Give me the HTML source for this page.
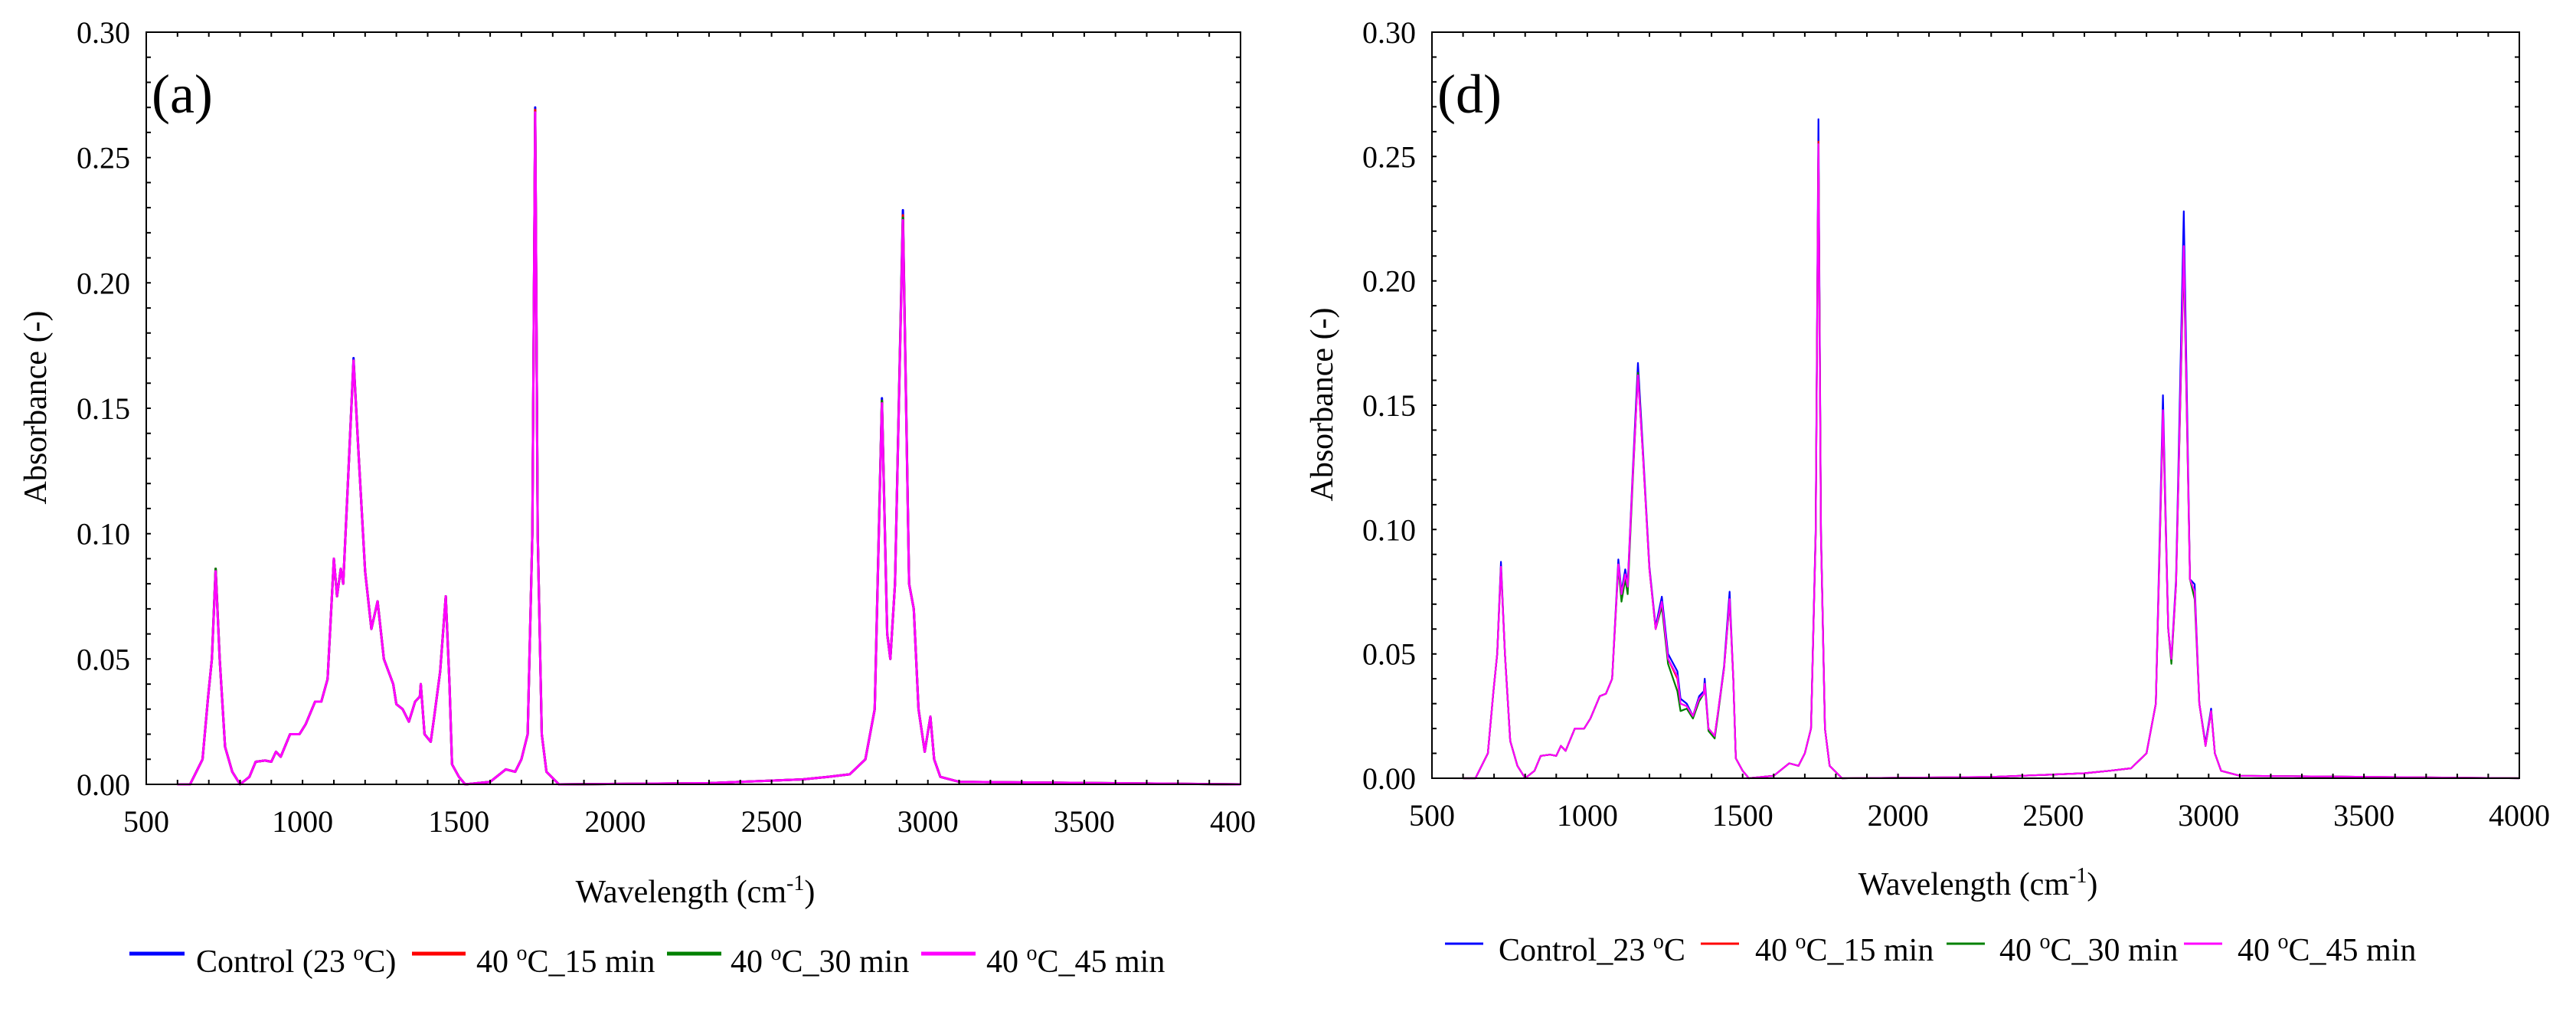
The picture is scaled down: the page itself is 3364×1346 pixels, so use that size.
<!DOCTYPE html>
<html><head><meta charset="utf-8">
<style>
html,body{margin:0;padding:0;background:#fff;}
svg{display:block;font-family:"Liberation Serif",serif;}
</style></head>
<body>
<svg id="fig" width="3364" height="1346" viewBox="0 0 3364 1346" xmlns="http://www.w3.org/2000/svg"></svg>
<script>
const wn = [600,640,680,698,710,722,735,752,775,800,830,850,880,900,915,930,960,990,1010,1040,1060,1080,1100,1110,1122,1130,1145,1163,1180,1200,1220,1240,1260,1290,1300,1320,1340,1360,1375,1378,1390,1410,1420,1440,1458,1470,1478,1500,1520,1600,1650,1680,1700,1720,1735,1744,1752,1765,1780,1820,2300,2600,2680,2750,2800,2830,2853,2870,2880,2895,2920,2940,2955,2970,2990,3008,3020,3040,3100,4000];
const aControl = [0,0,0.01,0.035,0.05,0.086,0.05,0.015,0.005,0,0.003,0.009,0.0095,0.009,0.013,0.011,0.02,0.02,0.024,0.033,0.033,0.042,0.09,0.075,0.086,0.08,0.12,0.17,0.13,0.085,0.062,0.073,0.05,0.04,0.032,0.03,0.025,0.033,0.035,0.04,0.02,0.017,0.026,0.045,0.075,0.04,0.008,0.003,0,0.001,0.006,0.005,0.01,0.02,0.1,0.27,0.1,0.02,0.005,0,0.0005,0.002,0.003,0.004,0.01,0.03,0.154,0.06,0.05,0.08,0.229,0.08,0.07,0.03,0.013,0.027,0.01,0.003,0.001,0];
const a15 = [0,0,0.01,0.035,0.05,0.086,0.05,0.015,0.005,0,0.003,0.009,0.0095,0.009,0.013,0.011,0.02,0.02,0.024,0.033,0.033,0.042,0.09,0.075,0.086,0.08,0.12,0.169,0.13,0.085,0.062,0.073,0.05,0.04,0.032,0.03,0.025,0.033,0.035,0.04,0.02,0.017,0.026,0.045,0.075,0.04,0.008,0.003,0,0.001,0.006,0.005,0.01,0.02,0.1,0.269,0.1,0.02,0.005,0,0.0005,0.002,0.003,0.004,0.01,0.03,0.153,0.06,0.05,0.08,0.227,0.08,0.07,0.03,0.013,0.027,0.01,0.003,0.001,0];
const a30 = [0,0,0.01,0.035,0.05,0.086,0.05,0.015,0.005,0,0.003,0.009,0.0095,0.009,0.013,0.011,0.02,0.02,0.024,0.033,0.033,0.042,0.09,0.075,0.086,0.08,0.12,0.169,0.13,0.085,0.062,0.073,0.05,0.04,0.032,0.03,0.025,0.033,0.035,0.04,0.02,0.017,0.026,0.045,0.075,0.04,0.008,0.003,0,0.001,0.006,0.005,0.01,0.02,0.1,0.268,0.1,0.02,0.005,0,0.0005,0.002,0.003,0.004,0.01,0.03,0.153,0.06,0.05,0.08,0.226,0.08,0.07,0.03,0.013,0.027,0.01,0.003,0.001,0];
const a45 = [0,0,0.01,0.035,0.05,0.085,0.05,0.015,0.005,0,0.003,0.009,0.0095,0.009,0.013,0.011,0.02,0.02,0.024,0.033,0.033,0.042,0.09,0.075,0.086,0.08,0.12,0.169,0.13,0.085,0.062,0.073,0.05,0.04,0.032,0.03,0.025,0.033,0.035,0.04,0.02,0.017,0.026,0.045,0.075,0.04,0.008,0.003,0,0.001,0.006,0.005,0.01,0.02,0.1,0.268,0.1,0.02,0.005,0,0.0005,0.002,0.003,0.004,0.01,0.03,0.152,0.06,0.05,0.08,0.225,0.08,0.07,0.03,0.013,0.027,0.01,0.003,0.001,0];
const dControl = [0,0,0.01,0.035,0.05,0.087,0.05,0.015,0.005,0,0.003,0.009,0.0095,0.009,0.013,0.011,0.02,0.02,0.024,0.033,0.034,0.04,0.088,0.075,0.084,0.078,0.12,0.167,0.13,0.085,0.061,0.073,0.05,0.043,0.032,0.03,0.025,0.033,0.035,0.04,0.02,0.017,0.026,0.045,0.075,0.04,0.008,0.003,0,0.001,0.006,0.005,0.01,0.02,0.1,0.265,0.1,0.02,0.005,0,0.0005,0.002,0.003,0.004,0.01,0.03,0.154,0.06,0.048,0.08,0.228,0.08,0.078,0.03,0.014,0.028,0.01,0.003,0.001,0];
const d15 = [0,0,0.01,0.035,0.05,0.085,0.05,0.015,0.005,0,0.003,0.009,0.0095,0.009,0.013,0.011,0.02,0.02,0.024,0.033,0.034,0.04,0.086,0.074,0.082,0.077,0.118,0.163,0.128,0.084,0.06,0.07,0.048,0.04,0.03,0.029,0.025,0.032,0.034,0.038,0.02,0.017,0.026,0.044,0.072,0.04,0.008,0.003,0,0.001,0.006,0.005,0.01,0.02,0.098,0.256,0.098,0.02,0.005,0,0.0005,0.002,0.003,0.004,0.01,0.03,0.147,0.06,0.047,0.078,0.212,0.08,0.075,0.03,0.013,0.027,0.01,0.003,0.001,0];
const d30 = [0,0,0.01,0.035,0.05,0.085,0.05,0.015,0.005,0,0.003,0.009,0.0095,0.009,0.013,0.011,0.02,0.02,0.024,0.033,0.034,0.04,0.085,0.071,0.08,0.074,0.116,0.163,0.128,0.084,0.06,0.069,0.046,0.035,0.027,0.028,0.024,0.031,0.034,0.038,0.019,0.016,0.025,0.044,0.071,0.04,0.008,0.003,0,0.001,0.006,0.005,0.01,0.02,0.098,0.255,0.098,0.02,0.005,0,0.0005,0.002,0.003,0.004,0.01,0.03,0.146,0.06,0.046,0.078,0.21,0.08,0.072,0.03,0.013,0.027,0.01,0.003,0.001,0];
const d45 = [0,0,0.01,0.035,0.05,0.085,0.05,0.015,0.005,0,0.003,0.009,0.0095,0.009,0.013,0.011,0.02,0.02,0.024,0.033,0.034,0.04,0.086,0.074,0.082,0.077,0.118,0.162,0.128,0.084,0.06,0.071,0.048,0.041,0.03,0.029,0.025,0.032,0.034,0.038,0.02,0.017,0.026,0.044,0.072,0.04,0.008,0.003,0,0.001,0.006,0.005,0.01,0.02,0.098,0.255,0.098,0.02,0.005,0,0.0005,0.002,0.003,0.004,0.01,0.03,0.148,0.06,0.048,0.078,0.214,0.08,0.075,0.03,0.013,0.027,0.01,0.003,0.001,0];
const xTicks = [500,1000,1500,2000,2500,3000,3500,4000];
const yTicks = [0,0.05,0.10,0.15,0.20,0.25,0.30];
const colors = ["#0000ff","#ff0000","#008000","#ff00ff"];

const NS = "http://www.w3.org/2000/svg";
const svg = document.getElementById("fig");
function mk(tag, attrs, parent){const e=document.createElementNS(NS,tag);for(const k in attrs)e.setAttribute(k,attrs[k]);(parent||svg).appendChild(e);return e;}

function panel(cfg){
  const g = mk("g",{});
  
  
  const L=cfg.L,R=cfg.R,T=cfg.T,B=cfg.B;
  const X = v => L + (v-500)/3500*(R-L);
  const Y = v => B - v/0.30*(B-T);
  // series
  cfg.series.forEach((s,i)=>{
    let d="";
    wn.forEach((w,j)=>{d += (j?"L":"M")+X(w).toFixed(1)+","+Y(s[j]).toFixed(1);});
    const p = mk("path",{d:d,fill:"none",stroke:colors[i],"stroke-width":cfg.lw,"stroke-linejoin":"round"},g);
    
    
  });
  // minor ticks
  let td="";
  for(let v=500; v<=4000; v+=100){const x=X(v).toFixed(1);td+=`M${x},${B}v-6M${x},${T}v6`;}
  for(let k=0;k<=30;k++){const y=Y(k/100).toFixed(1);td+=`M${L},${y}h6M${R},${y}h-6`;}
  const tk = mk("path",{d:td,stroke:"#000","stroke-width":2,fill:"none"},g);
  
  
  const fr = mk("rect",{x:L,y:T,width:R-L,height:B-T,fill:"none",stroke:"#000","stroke-width":2},g);
  
  
  xTicks.forEach(v=>{
    const t = mk("text",{x:X(v),y:B+62,"font-size":40,"text-anchor":"middle"},g);
    t.textContent = (cfg.clip && v===4000) ? "400" : String(v);
    if(cfg.clip && v===4000) t.setAttribute("x", X(v)-10);
    
    
  });
  yTicks.forEach(v=>{
    const t = mk("text",{x:L-21,y:Y(v)+14,"font-size":40,"text-anchor":"end"},g);
    t.textContent = v.toFixed(2);
    
    
  });
  const lab = mk("text",{x:L+7,y:T+105,"font-size":72},g);
  lab.textContent = cfg.letter;
  
  
  const yt = mk("text",{x:0,y:0,"font-size":42,"text-anchor":"middle",transform:`translate(${cfg.ytx},${cfg.yty}) rotate(-90)`},g);
  yt.textContent = "Absorbance (-)";
  
  
  const xt = mk("text",{x:cfg.xtx,y:cfg.xty,"font-size":42,"text-anchor":"middle"},g);
  xt.innerHTML = 'Wavelength (cm<tspan dy="-16" font-size="28">-1</tspan><tspan dy="16">)</tspan>';
  
  
  cfg.legend.forEach((it,i)=>{
    const ln = mk("line",{x1:it[0],x2:it[1],y1:cfg.legLineY,y2:cfg.legLineY,stroke:colors[i],"stroke-width":cfg.legLw},g);
    
    
    const t = mk("text",{x:it[2],y:cfg.legBase,"font-size":42},g);
    t.innerHTML = it[3];
    
    
  });
}
const sup = 'o';
panel({name:"panel-a",letter:"(a)",L:191,R:1620,T:42,B:1024,lw:3,clip:true,
  series:[aControl,a15,a30,a45],keys:["control","15min","30min","45min"],
  ytx:60,yty:532,xtx:908,xty:1178,legLineY:1245,legBase:1269,legLw:5,
  legend:[[169,241,256,'Control (23 <tspan dy="-16" font-size="28">o</tspan><tspan dy="16">C)</tspan>'],
          [538,608,622,'40 <tspan dy="-16" font-size="28">o</tspan><tspan dy="16">C_15 min</tspan>'],
          [871,942,954,'40 <tspan dy="-16" font-size="28">o</tspan><tspan dy="16">C_30 min</tspan>'],
          [1203,1274,1288,'40 <tspan dy="-16" font-size="28">o</tspan><tspan dy="16">C_45 min</tspan>']]});
panel({name:"panel-d",letter:"(d)",L:1870,R:3290,T:42,B:1016,lw:2.2,clip:false,
  series:[dControl,d15,d30,d45],keys:["control","15min","30min","45min"],
  ytx:1740,yty:528,xtx:2583,xty:1168,legLineY:1232,legBase:1254,legLw:3,
  legend:[[1887,1937,1957,'Control_23 <tspan dy="-16" font-size="28">o</tspan><tspan dy="16">C</tspan>'],
          [2221,2271,2292,'40 <tspan dy="-16" font-size="28">o</tspan><tspan dy="16">C_15 min</tspan>'],
          [2542,2592,2611,'40 <tspan dy="-16" font-size="28">o</tspan><tspan dy="16">C_30 min</tspan>'],
          [2852,2902,2922,'40 <tspan dy="-16" font-size="28">o</tspan><tspan dy="16">C_45 min</tspan>']]});
</script>
</body></html>
